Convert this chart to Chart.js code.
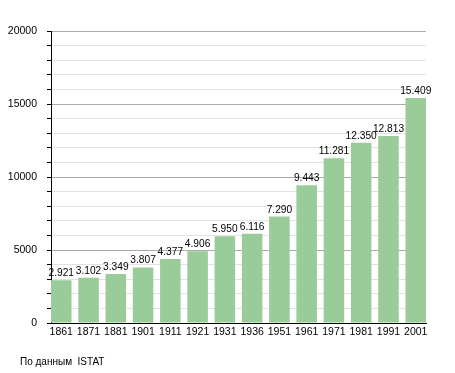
<!DOCTYPE html>
<html><head><meta charset="utf-8">
<script src="https://cdn.jsdelivr.net/npm/chart.js@4/dist/chart.umd.min.js"></script>
<style>
html,body{margin:0;padding:0;background:#fff;}
#wrap{position:relative;width:455px;height:373px;}
#note{position:absolute;left:20px;top:356px;font:10px "Liberation Sans",Arial,sans-serif;color:#000;white-space:pre;}
</style></head>
<body>
<div id="wrap"><canvas id="c" width="455" height="373"></canvas>
<div id="note">По данным  ISTAT</div></div>
<script>
const years = ["1861","1871","1881","1901","1911","1921","1931","1936","1951","1961","1971","1981","1991","2001"];
const population = [2921,3102,3349,3807,4377,4906,5950,6116,7290,9443,11281,12350,12813,15409];
const yTicksMajor = [0,5000,10000,15000,20000];

const FONT = '"Liberation Sans", Arial, sans-serif';
const barPct = 0.753;
const fmt = v => String(v).replace(/\B(?=(\d{3})+(?!\d))/g, '.');

const valueLabels = {
  id: 'valueLabels',
  afterDatasetsDraw(chart) {
    const ctx = chart.ctx;
    const meta = chart.getDatasetMeta(0);
    ctx.save();
    ctx.font = '10.2px ' + FONT;
    ctx.fillStyle = '#000';
    ctx.textAlign = 'center';
    ctx.textBaseline = 'alphabetic';
    meta.data.forEach((bar, i) => {
      ctx.fillText(fmt(population[i]), bar.x, bar.y - 4);
    });
    ctx.restore();
  }
};

new Chart(document.getElementById('c'), {
  type: 'bar',
  data: {
    datasets: [{
      data: population.map((v, i) => ({x: i, y: v})),
      backgroundColor: '#99cc99',
      borderWidth: 0,
      categoryPercentage: 1,
      barPercentage: barPct
    }]
  },
  options: {
    responsive: false,
    animation: false,
    events: [],
    layout: {padding: {left: 0, top: 31, right: 29, bottom: 30}},
    plugins: {legend: {display: false}, tooltip: {enabled: false}},
    scales: {
      x: {
        type: 'linear',
        offset: false,
        min: -barPct / 2,
        max: years.length - 1 + barPct / 2,
        grid: {display: false, offset: false, drawTicks: false},
        border: {display: true, color: '#000', width: 1},
        afterFit: s => { s.height = 20; },
        ticks: {
          stepSize: 1,
          includeBounds: false,
          autoSkip: false,
          maxRotation: 0,
          padding: 3,
          color: '#000',
          font: {family: FONT, size: 10.5},
          callback: v => Number.isInteger(v) ? years[v] : ''
        }
      },
      y: {
        min: 0,
        max: 20000,
        afterFit: s => { s.width = 51; },
        border: {display: true, color: '#000', width: 1},
        grid: {
          color: ctx => yTicksMajor.includes(ctx.tick.value) ? '#aaaaaa' : '#e2e2e2',
          tickColor: '#000',
          tickLength: 4
        },
        ticks: {
          stepSize: 1000,
          autoSkip: false,
          padding: 10,
          color: '#000',
          font: {family: FONT, size: 10.5},
          callback: v => yTicksMajor.includes(v) ? String(v) : ''
        }
      }
    }
  },
  plugins: [valueLabels]
});
</script>
</body></html>
